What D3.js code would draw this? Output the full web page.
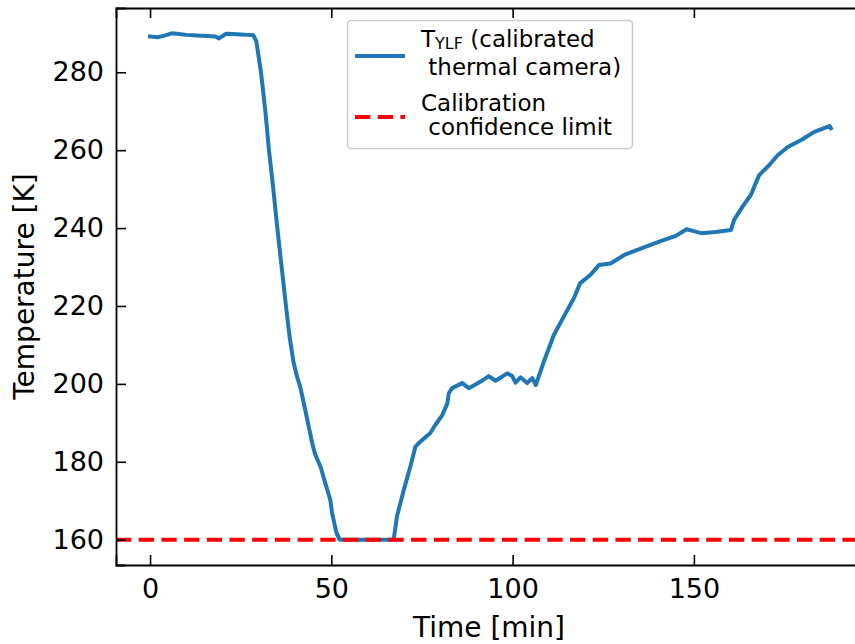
<!DOCTYPE html>
<html>
<head>
<meta charset="utf-8">
<script src="https://cdn.jsdelivr.net/npm/d3@7"></script>
<style>
  body { margin: 0; background: #fff; }
  svg { font-family: "DejaVu Sans", sans-serif; }
  .axis path, .axis line { stroke: #000; }
</style>
</head>
<body>
<div id="chart"></div>
<script>
// readings (time in minutes, temperature in K)
const timeMin = [0, 2, 4, 6, 8, 10, 12, 14, 16, 18, 19, 20, 21, 23, 25, 27, 28.5, 29.3,
  30.6, 31.8, 32.8, 34, 35.1, 36.3, 37.3, 38.5, 39.6, 40.5, 41.4, 42.8, 44, 44.7, 45.5, 47, 48.3, 49.7, 50.2, 51.4, 52.3,
  55, 60, 65, 67.2,
  68.1, 70, 71.8, 73.2, 74.6, 77.3, 78.7, 80.6, 82, 82.4, 83.3, 86.1, 87.9, 91.2, 93.4, 95.3, 98.5, 99.9, 100.8, 102.2, 104, 105.4, 106.4,
  108.6, 111.4, 114.6, 116.9, 118.6, 121.5, 123.8, 127, 130.8, 134.4, 141, 145, 148, 150, 152, 156, 160.2,
  161.1, 163.4, 165.7, 168, 170.8, 173.1, 175.9, 179.6, 183.2, 187.4, 187.8];
const tempK = [289.2, 289.0, 289.4, 290.0, 289.8, 289.6, 289.5, 289.4, 289.3, 289.2, 288.7, 289.3, 289.9, 289.8, 289.7, 289.6, 289.5, 288,
  280, 270, 260, 250, 240, 230, 221.5, 212, 205.4, 202, 199.3, 193.3, 188, 184.9, 182, 178.8, 174.6, 170.3, 166.9, 161.8, 160,
  160, 160, 160, 160,
  166, 172.8, 178.8, 183.9, 185.2, 187.4, 189.5, 192, 195, 197.6, 198.9, 200.2, 198.9, 200.6, 202, 200.8, 202.7, 202, 200.3, 201.7, 200.2, 201.5, 199.7,
  205.7, 212.6, 218.1, 222, 225.8, 228, 230.5, 230.9, 233.1, 234.4, 236.7, 238, 239.7, 239.2, 238.7, 239, 239.5,
  242.1, 245.5, 248.5, 253.6, 256.2, 258.7, 260.8, 262.6, 264.7, 266.2, 265.6];
const limitK = 160;
const xTicks = [0, 50, 100, 150];
const yTicks = [160, 180, 200, 220, 240, 260, 280];

const W = 855, H = 644;
const margin = { top: 8, right: -10, bottom: 79, left: 116 };
const innerW = W - margin.left - margin.right;
const innerH = H - margin.top - margin.bottom;

const svg = d3.select("#chart").append("svg")
  .attr("width", W)
  .attr("height", H);

const g = svg.append("g")
  .attr("transform", "translate(" + margin.left + "," + margin.top + ")");

// matplotlib-style 5% padding
const xPad = 0.05 * (d3.max(timeMin) - d3.min(timeMin));
const yPad = 0.05 * (d3.max(tempK) - limitK);
const x = d3.scaleLinear()
  .domain([d3.min(timeMin) - xPad, d3.max(timeMin) + xPad])
  .range([0, innerW]);
const y = d3.scaleLinear()
  .domain([limitK - yPad, d3.max(tempK) + yPad])
  .range([innerH, 0]);

const pts = timeMin.map((t, i) => ({ t: t, v: tempK[i] }));

// series
g.append("path")
  .datum(pts)
  .attr("fill", "none")
  .attr("stroke", "#1f77b4")
  .attr("stroke-width", 4)
  .attr("stroke-linejoin", "round")
  .attr("stroke-linecap", "square")
  .attr("d", d3.line().x(d => x(d.t)).y(d => y(d.v)));

// calibration limit
g.append("line")
  .attr("x1", 0).attr("x2", innerW)
  .attr("y1", y(limitK)).attr("y2", y(limitK))
  .attr("stroke", "#ff0000")
  .attr("stroke-width", 4)
  .attr("stroke-dasharray", "15.3,7.4");

// axes, ticks pointing inwards
const fs = "27px";
const bottomAx = g.append("g").attr("class", "axis")
  .attr("transform", "translate(0," + innerH + ")")
  .call(d3.axisBottom(x).tickValues(xTicks).tickSize(-10).tickPadding(14).tickFormat(d3.format("d")));
const leftAx = g.append("g").attr("class", "axis")
  .call(d3.axisLeft(y).tickValues(yTicks).tickSize(-10).tickPadding(12).tickFormat(d3.format("d")));
const topAx = g.append("g").attr("class", "axis")
  .call(d3.axisTop(x).tickValues(xTicks).tickSize(-10).tickFormat(""));
const rightAx = g.append("g").attr("class", "axis")
  .attr("transform", "translate(" + innerW + ",0)")
  .call(d3.axisRight(y).tickValues(yTicks).tickSize(-10).tickFormat(""));

[bottomAx, leftAx, topAx, rightAx].forEach(a => {
  a.select(".domain").attr("stroke-width", 1.8).attr("stroke", "#222");
  a.selectAll(".tick line").attr("stroke-width", 1.6);
  a.selectAll("text").attr("font-size", fs).attr("font-family", "DejaVu Sans").attr("fill", "#000");
});

// axis titles
svg.append("text")
  .attr("x", 489)
  .attr("y", 637)
  .attr("text-anchor", "middle")
  .attr("font-size", "28px")
  .text("Time [min]");

svg.append("text")
  .attr("transform", "translate(34," + (margin.top + innerH / 2) + ") rotate(-90)")
  .attr("text-anchor", "middle")
  .attr("font-size", "28px")
  .text("Temperature [K]");

// legend
const leg = svg.append("g");
leg.append("rect")
  .attr("x", 347.5).attr("y", 20.5)
  .attr("width", 285).attr("height", 128)
  .attr("rx", 4)
  .attr("fill", "#fff").attr("fill-opacity", 0.8)
  .attr("stroke", "#cccccc").attr("stroke-width", 1.6);

leg.append("line")
  .attr("x1", 355).attr("x2", 405).attr("y1", 56).attr("y2", 56)
  .attr("stroke", "#1f77b4").attr("stroke-width", 4);
leg.append("line")
  .attr("x1", 355).attr("x2", 405).attr("y1", 117).attr("y2", 117)
  .attr("stroke", "#ff0000").attr("stroke-width", 4)
  .attr("stroke-dasharray", "15.3,7.4");

const l1 = leg.append("text").attr("x", 421).attr("y", 47).attr("font-size", "23px");
l1.append("tspan").text("T");
l1.append("tspan").attr("font-size", "16px").attr("dy", 2).text("YLF");
l1.append("tspan").attr("dy", -2).text(" (calibrated");

leg.append("text").attr("x", 421).attr("y", 75).attr("font-size", "23px")
  .style("white-space", "pre").text(" thermal camera)");
leg.append("text").attr("x", 421).attr("y", 111).attr("font-size", "23px").text("Calibration");
leg.append("text").attr("x", 421).attr("y", 135).attr("font-size", "23px")
  .style("white-space", "pre").text(" confidence limit");
</script>
</body>
</html>
